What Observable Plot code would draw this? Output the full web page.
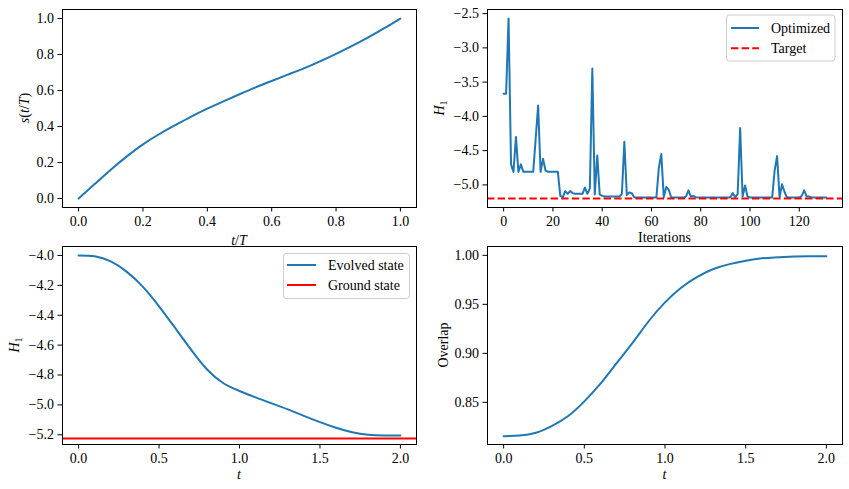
<!DOCTYPE html>
<html>
<head>
<meta charset="utf-8">
<script src="https://cdn.jsdelivr.net/npm/d3@7"></script>
<script src="https://cdn.jsdelivr.net/npm/@observablehq/plot@0.6"></script>
<style>
  html, body { margin: 0; padding: 0; background: #fff; }
  #root { position: relative; width: 849px; height: 489px; overflow: hidden; background: #fff; }
  #root svg { position: absolute; font-family: "Liberation Serif", "Times New Roman", serif !important; }
  #root svg text { font-family: "Liberation Serif", "Times New Roman", serif !important; }
</style>
</head>
<body>
<div id="root"></div>
<script>
// ---------- data ----------
// Panel 1: schedule s(t/T)
const sX = [0, 0.05, 0.1, 0.15, 0.2, 0.25, 0.3, 0.35, 0.4, 0.45, 0.5, 0.55, 0.6, 0.65, 0.7, 0.75, 0.8, 0.85, 0.9, 0.95, 1.0];
const sY = [0, 0.08, 0.16, 0.234, 0.301, 0.357, 0.407, 0.455, 0.499, 0.54, 0.579, 0.617, 0.653, 0.688, 0.723, 0.762, 0.804, 0.848, 0.895, 0.946, 1.0];

// Panel 2: optimization history of H1
const iterH = [
  -3.67, -3.67, -2.57, -4.70, -4.81, -4.30, -4.81, -4.70, -4.81, -4.81,
  -4.81, -4.81, -4.81, -4.33, -3.84, -4.81, -4.62, -4.79, -4.81, -4.81,
  -4.81, -4.81, -4.81, -5.16, -5.18, -5.09, -5.13, -5.09, -5.12, -5.13,
  -5.13, -5.13, -5.13, -5.04, -5.13, -5.05, -3.30, -5.14, -4.57, -5.14,
  -5.16, -5.17, -5.17, -5.17, -5.17, -5.17, -5.17, -5.17, -5.13, -4.37,
  -5.15, -5.11, -5.12, -5.18, -5.185, -5.185, -5.185, -5.185, -5.185, -5.185,
  -5.185, -5.185, -5.185, -4.75, -4.55, -5.18, -5.03, -5.07, -5.18, -5.185,
  -5.185, -5.185, -5.185, -5.185, -5.17, -5.08, -5.17, -5.16, -5.18, -5.185,
  -5.185, -5.185, -5.185, -5.185, -5.185, -5.185, -5.185, -5.185, -5.185, -5.185,
  -5.185, -5.185, -5.18, -5.12, -5.18, -5.13, -4.17, -5.17, -5.01, -5.17,
  -5.185, -5.185, -5.185, -5.185, -5.185, -5.185, -5.185, -5.185, -5.185, -5.185,
  -4.79, -4.58, -5.18, -4.99, -5.10, -5.185, -5.185, -5.185, -5.185, -5.185,
  -5.185, -5.16, -5.08, -5.17, -5.17, -5.185, -5.185, -5.185, -5.185, -5.185,
  -5.185, -5.185
];
const targetH = -5.20;

// Panels 3 & 4: time evolution
const tGrid = [0, 0.1, 0.2, 0.3, 0.4, 0.5, 0.6, 0.7, 0.8, 0.9, 1.0, 1.1, 1.2, 1.3, 1.4, 1.5, 1.6, 1.7, 1.8, 1.9, 2.0];
const evolvedH = [-4.0, -4.006, -4.04, -4.11, -4.21, -4.34, -4.485, -4.632, -4.765, -4.855, -4.907, -4.95, -4.99, -5.03, -5.073, -5.115, -5.153, -5.183, -5.199, -5.204, -5.205];
const groundH = -5.225;
const overlap = [0.8155, 0.8162, 0.819, 0.826, 0.836, 0.851, 0.869, 0.89, 0.911, 0.933, 0.952, 0.967, 0.978, 0.986, 0.991, 0.9945, 0.997, 0.998, 0.9988, 0.999, 0.999];

// tick labels
const ticks1x = [0, 0.2, 0.4, 0.6, 0.8, 1.0];
const ticks1y = [0, 0.2, 0.4, 0.6, 0.8, 1.0];
const ticks2x = [0, 20, 40, 60, 80, 100, 120];
const ticks2y = [-5.0, -4.5, -4.0, -3.5, -3.0, -2.5];
const ticks3x = [0, 0.5, 1.0, 1.5, 2.0];
const ticks3y = [-5.2, -5.0, -4.8, -4.6, -4.4, -4.2, -4.0];
const ticks4y = [0.85, 0.90, 0.95, 1.00];

// ---------- drawing ----------
const BLUE = "#1f77b4";
const FONT = "Liberation Serif, Times New Roman, serif";
const root = document.getElementById("root");

function panel(o) {
  const svg = Plot.plot({
    width: o.width, height: o.height,
    marginTop: o.mt, marginRight: o.mr, marginBottom: o.mb, marginLeft: o.ml,
    x: {domain: o.xDomain},
    y: {domain: o.yDomain},
    style: {fontSize: "14px", color: "#000", background: "transparent", overflow: "visible"},
    marks: [
      ...o.marks,
      Plot.frame({stroke: "#000", strokeWidth: 1}),
      Plot.axisX({ticks: o.xTicks, tickFormat: o.xFmt, tickSize: 4.5, tickPadding: 4, label: null, stroke: "#000", fontFamily: FONT}),
      Plot.axisY({ticks: o.yTicks, tickFormat: o.yFmt, tickSize: 4.5, tickPadding: 4, label: null, stroke: "#000", fontFamily: FONT})
    ]
  });
  svg.style.left = o.left + "px";
  svg.style.top = o.top + "px";
  svg.style.fontFamily = FONT;
  root.appendChild(svg);
}

const f1 = d3.format(".1f"), f2 = d3.format(".2f"), f0 = d3.format("d");

panel({
  left: 0, top: 0, width: 425, height: 237, mt: 9, mr: 9, mb: 30, ml: 62,
  xDomain: [-0.05, 1.05], yDomain: [-0.05, 1.05],
  xTicks: ticks1x, yTicks: ticks1y, xFmt: f1, yFmt: f1,
  marks: [Plot.line(sX.map((x, i) => ({x, y: sY[i]})), {x: "x", y: "y", stroke: BLUE, strokeWidth: 2, curve: "natural"})]
});

panel({
  left: 425, top: 0, width: 424, height: 237, mt: 9, mr: 7, mb: 30, ml: 62,
  xDomain: [-6.55, 137.55], yDomain: [-5.33, -2.44],
  xTicks: ticks2x, yTicks: ticks2y, xFmt: f0, yFmt: f1,
  marks: [
    Plot.line(iterH.map((y, i) => ({x: i, y})), {x: "x", y: "y", stroke: BLUE, strokeWidth: 2}),
    Plot.ruleY([targetH], {stroke: "red", strokeWidth: 2, strokeDasharray: "7.4,3.2"})
  ]
});

panel({
  left: 0, top: 237, width: 425, height: 252, mt: 9, mr: 9, mb: 45, ml: 62,
  xDomain: [-0.1, 2.1], yDomain: [-5.265, -3.94],
  xTicks: ticks3x, yTicks: ticks3y, xFmt: f1, yFmt: f1,
  marks: [
    Plot.line(tGrid.map((x, i) => ({x, y: evolvedH[i]})), {x: "x", y: "y", stroke: BLUE, strokeWidth: 2, curve: "natural"}),
    Plot.ruleY([groundH], {stroke: "red", strokeWidth: 2})
  ]
});

panel({
  left: 425, top: 237, width: 424, height: 252, mt: 9, mr: 7, mb: 45, ml: 62,
  xDomain: [-0.1, 2.1], yDomain: [0.807, 1.009],
  xTicks: ticks3x, yTicks: ticks4y, xFmt: f1, yFmt: f2,
  marks: [
    Plot.line(tGrid.map((x, i) => ({x, y: overlap[i]})), {x: "x", y: "y", stroke: BLUE, strokeWidth: 2, curve: "natural"})
  ]
});

// ---------- overlay: axis labels and legends ----------
const ov = d3.select(root).append("svg")
  .attr("width", 849).attr("height", 489)
  .style("left", "0px").style("top", "0px").style("pointer-events", "none")
  .attr("font-family", FONT).attr("font-size", 14).attr("fill", "#000");

function label(x, y, rot, parts) {
  const t = ov.append("text")
    .attr("transform", `translate(${x},${y})` + (rot ? " rotate(-90)" : ""))
    .attr("text-anchor", "middle").attr("dy", "0.35em");
  parts.forEach(p => {
    const s = t.append("tspan").text(p.t);
    if (p.i) s.attr("font-style", "italic");
    if (p.sub) s.attr("font-size", 10).attr("baseline-shift", "-25%");
  });
}

label(24, 108, true, [{t: "s", i: 1}, {t: "("}, {t: "t", i: 1}, {t: "/"}, {t: "T", i: 1}, {t: ")"}]);
label(239, 240, false, [{t: "t", i: 1}, {t: "/"}, {t: "T", i: 1}]);
label(439, 108, true, [{t: "H", i: 1}, {t: "1", sub: 1}]);
label(664.5, 237, false, [{t: "Iterations"}]);
label(14, 345, true, [{t: "H", i: 1}, {t: "1", sub: 1}]);
label(239, 474, false, [{t: "t", i: 1}]);
label(443.5, 345, true, [{t: "Overlap"}]);
label(664.5, 474, false, [{t: "t", i: 1}]);

function legend(x, y, w, h, items) {
  ov.append("rect").attr("x", x).attr("y", y).attr("width", w).attr("height", h)
    .attr("rx", 3).attr("fill", "#fff").attr("fill-opacity", 0.8)
    .attr("stroke", "#cccccc").attr("stroke-width", 1);
  items.forEach(it => {
    ov.append("line").attr("x1", it.x1).attr("x2", it.x2).attr("y1", it.y).attr("y2", it.y)
      .attr("stroke", it.color).attr("stroke-width", 2)
      .attr("stroke-dasharray", it.dash || null);
    ov.append("text").attr("x", it.tx).attr("y", it.y).attr("dy", "0.35em").text(it.text);
  });
}

legend(726.5, 15, 108.5, 46, [
  {x1: 731, x2: 759, y: 28, tx: 771, color: BLUE, text: "Optimized"},
  {x1: 731, x2: 759, y: 48.3, tx: 771, color: "red", dash: "7.4,3.2", text: "Target"}
]);
legend(283.5, 253.5, 126, 45, [
  {x1: 287, x2: 316, y: 265, tx: 328, color: BLUE, text: "Evolved state"},
  {x1: 287, x2: 316, y: 285, tx: 328, color: "red", text: "Ground state"}
]);
</script>
</body>
</html>
